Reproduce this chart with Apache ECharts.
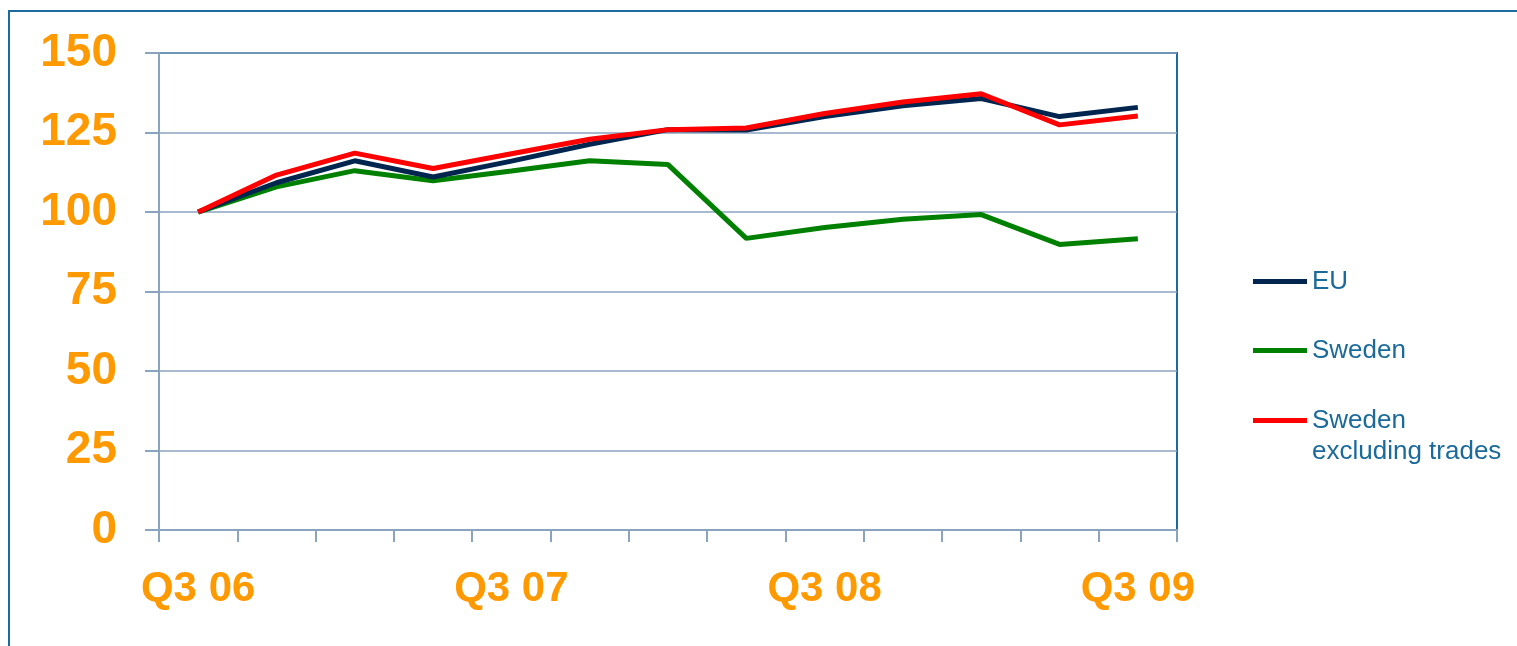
<!DOCTYPE html>
<html>
<head>
<meta charset="utf-8">
<script src="https://cdn.jsdelivr.net/npm/echarts@6/dist/echarts.min.js"></script>
<style>
html,body{margin:0;padding:0;background:#fff;}
#chart{width:1517px;height:646px;}
</style>
</head>
<body>
<div id="chart"></div>
<script>
var categories = ['Q3 06','Q4 06','Q1 07','Q2 07','Q3 07','Q4 07','Q1 08','Q2 08','Q3 08','Q4 08','Q1 09','Q2 09','Q3 09'];
var euValues = [100, 109.2, 116.1, 111.0, 116.0, 121.3, 125.9, 125.8, 130.0, 133.4, 135.7, 130.0, 132.9];
var swedenValues = [100, 107.9, 113.0, 109.8, 112.9, 116.1, 114.9, 91.7, 95.1, 97.7, 99.2, 89.8, 91.6];
var swedenExclValues = [100, 111.6, 118.5, 113.7, 118.3, 122.9, 125.9, 126.4, 131.0, 134.6, 137.2, 127.4, 130.2];
var yTicks = [0, 25, 50, 75, 100, 125, 150];
var seriesNames = ['EU', 'Sweden', 'Sweden excluding trades'];
var legendLabels = ['EU', 'Sweden', ' \nSweden\nexcluding trades'];

var axisGray = '#8aa3bf';
var frameBlue = '#1d6b9c';
var orange = '#ff9900';
var legendTextColor = '#1a6a9a';
var font = 'Liberation Sans, Arial, sans-serif';

var chart = echarts.init(document.getElementById('chart'));

function legendAt(i, top) {
  return {
    data: [seriesNames[i]],
    formatter: function () { return legendLabels[i]; },
    left: 1248,
    top: top,
    orient: 'vertical',
    itemWidth: 54,
    itemHeight: 14,
    itemGap: 0,
    icon: 'path://M0,5.5 L54,5.5 L54,10.5 L0,10.5 Z',
    selectedMode: false,
    textStyle: {fontFamily: font, fontSize: 26, color: legendTextColor, lineHeight: 31}
  };
}

chart.setOption({
  animation: false,
  graphic: [{
    type: 'rect',
    shape: {x: 9, y: 11, width: 1600, height: 700},
    style: {fill: 'none', stroke: frameBlue, lineWidth: 2},
    silent: true,
    z: -1
  }],
  legend: [legendAt(0, 261), legendAt(1, 330), legendAt(2, 369)],
  grid: {
    left: 159, right: 340, top: 53, bottom: 116,
    show: true, borderColor: frameBlue, borderWidth: 2, backgroundColor: 'transparent'
  },
  xAxis: {
    type: 'category',
    data: categories,
    boundaryGap: true,
    axisLine: {lineStyle: {color: axisGray, width: 2}},
    axisTick: {show: true, interval: 0, length: 12, lineStyle: {color: axisGray, width: 2}},
    axisLabel: {
      interval: 3, margin: 38,
      color: orange, fontFamily: font, fontWeight: 'bold', fontSize: 42
    },
    splitLine: {show: false}
  },
  yAxis: {
    type: 'value',
    min: yTicks[0], max: yTicks[yTicks.length - 1], interval: 25,
    axisLine: {show: true, lineStyle: {color: axisGray, width: 2}},
    axisTick: {show: true, length: 14, lineStyle: {color: axisGray, width: 2}},
    axisLabel: {
      margin: 42, color: orange, fontFamily: font, fontWeight: 'bold', fontSize: 46
    },
    splitLine: {show: true, lineStyle: {color: axisGray, width: 1.5}}
  },
  series: [
    {name: seriesNames[0], type: 'line', data: euValues, symbol: 'none',
     lineStyle: {color: '#00264f', width: 5}, itemStyle: {color: '#00264f'}, z: 3},
    {name: seriesNames[1], type: 'line', data: swedenValues, symbol: 'none',
     lineStyle: {color: '#008000', width: 5}, itemStyle: {color: '#008000'}, z: 2},
    {name: seriesNames[2], type: 'line', data: swedenExclValues, symbol: 'none',
     lineStyle: {color: '#ff0000', width: 5}, itemStyle: {color: '#ff0000'}, z: 4}
  ]
});
</script>
</body>
</html>
